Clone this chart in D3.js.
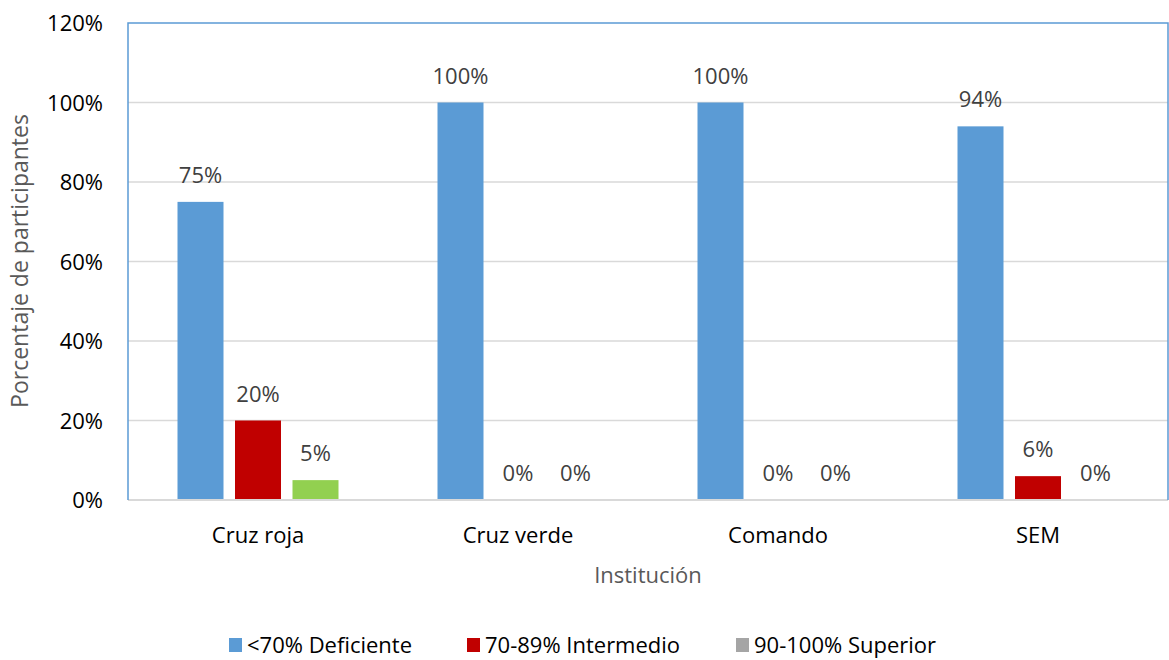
<!DOCTYPE html>
<html>
<head>
<meta charset="utf-8">
<script src="https://cdn.jsdelivr.net/npm/d3@7"></script>
<style>
  body { margin: 0; background: #fff; }
  text { font-family: "Open Sans", "Noto Sans", sans-serif; }
</style>
</head>
<body>
<svg id="chart" width="1169" height="660"></svg>
<script>
// chart data
var categories = ["Cruz roja", "Cruz verde", "Comando", "SEM"];
var seriesNames = ["<70% Deficiente", "70-89% Intermedio", "90-100% Superior"];
var deficiente = [75, 100, 100, 94];
var intermedio = [20, 0, 0, 6];
var superior = [5, 0, 0, 0];
var yTicks = [0, 20, 40, 60, 80, 100, 120];

var barColors = ["#5b9bd5", "#c00000", "#92d050"];
var legendColors = ["#5b9bd5", "#c00000", "#a5a5a5"];
var series = [deficiente, intermedio, superior];

var svg = d3.select("#chart");
var plotLeft = 128, plotRight = 1168, plotTop = 23, plotBottom = 500;

var x = d3.scaleBand().domain(categories).range([plotLeft, plotRight]);
var xInner = d3.scaleBand().domain(d3.range(series.length))
  .range([x.bandwidth() / 2 - 80.5, x.bandwidth() / 2 + 80.5]).paddingInner(0.2);
var y = d3.scaleLinear().domain([0, 120]).range([plotBottom, plotTop]);

// gridlines
svg.append("g").selectAll("line")
  .data(yTicks.filter(function(d) { return d > 0 && d < 120; }))
  .enter().append("line")
  .attr("x1", plotLeft).attr("x2", plotRight)
  .attr("y1", function(d) { return y(d); }).attr("y2", function(d) { return y(d); })
  .attr("stroke", "#d9d9d9").attr("stroke-width", 1.5);

// y tick labels
svg.append("g").selectAll("text")
  .data(yTicks).enter().append("text")
  .attr("x", 103).attr("y", function(d) { return y(d) + 8; })
  .attr("text-anchor", "end")
  .attr("font-size", 22).attr("fill", "#000")
  .text(function(d) { return d + "%"; });

// bars
for (var s = 0; s < series.length; s++) {
  var g = svg.append("g");
  g.selectAll("rect")
    .data(series[s]).enter().append("rect")
    .attr("x", function(d, i) { return x(categories[i]) + xInner(s); })
    .attr("y", function(d) { return y(d); })
    .attr("width", xInner.bandwidth())
    .attr("height", function(d) { return y(0) - y(d); })
    .attr("fill", barColors[s]);
  g.selectAll("text")
    .data(series[s]).enter().append("text")
    .attr("x", function(d, i) { return x(categories[i]) + xInner(s) + xInner.bandwidth() / 2; })
    .attr("y", function(d) { return y(d) - 19; })
    .attr("text-anchor", "middle")
    .attr("font-size", 22).attr("fill", "#404040")
    .text(function(d) { return d + "%"; });
}

// plot border
svg.append("line").attr("x1", plotLeft).attr("x2", plotRight).attr("y1", plotBottom).attr("y2", plotBottom)
  .attr("stroke", "#d9d9d9").attr("stroke-width", 2);
svg.append("path")
  .attr("d", "M" + plotLeft + "," + plotBottom + "V" + plotTop + "H" + plotRight + "V" + plotBottom)
  .attr("fill", "none").attr("stroke", "#5b9bd5").attr("stroke-width", 1.5);

// x labels
svg.append("g").selectAll("text")
  .data(categories).enter().append("text")
  .attr("x", function(d) { return x(d) + x.bandwidth() / 2; })
  .attr("y", 543)
  .attr("text-anchor", "middle")
  .attr("font-size", 22).attr("fill", "#000")
  .text(function(d) { return d; });

// axis titles
svg.append("text").attr("x", 648).attr("y", 583).attr("text-anchor", "middle")
  .attr("font-size", 22).attr("fill", "#595959").text("Institución");
svg.append("text").attr("transform", "translate(28,261) rotate(-90)")
  .attr("text-anchor", "middle")
  .attr("font-size", 23).attr("fill", "#595959").text("Porcentaje de participantes");

// legend
var legendX = [229, 467, 736];
var legend = svg.append("g").selectAll("g")
  .data(seriesNames).enter().append("g")
  .attr("transform", function(d, i) { return "translate(" + legendX[i] + ",638)"; });
legend.append("rect").attr("width", 13).attr("height", 14).attr("y", 0)
  .attr("fill", function(d, i) { return legendColors[i]; });
legend.append("text").attr("x", 18).attr("y", 15)
  .attr("font-size", 22).attr("fill", "#000")
  .text(function(d) { return d; });
</script>
</body>
</html>
